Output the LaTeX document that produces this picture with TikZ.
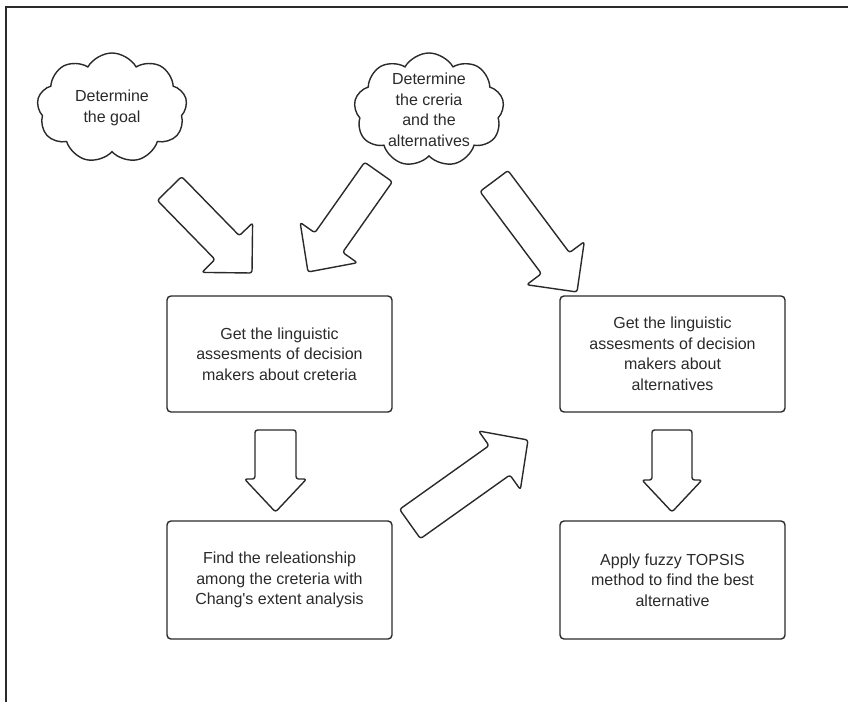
\documentclass[tikz,border=0pt]{standalone}
\usepackage{fontspec}
\setmainfont{Liberation Sans}
\usetikzlibrary{calc,shapes.symbols}
\definecolor{ink}{HTML}{2A2A2A}
\newcommand\blockarrow[5]{%
  \coordinate (ban) at ($(#2)!#5!(#1)$);
  \draw[blk] ($(#1)!#3!90:(#2)$) -- ($(ban)!#3!-90:(#1)$) -- ($(ban)!#4!-90:(#1)$) -- (#2)
    -- ($(ban)!#4!90:(#1)$) -- ($(ban)!#3!90:(#1)$) -- ($(#1)!#3!-90:(#2)$) -- cycle;}
\begin{document}
\begin{tikzpicture}[x=1pt,y=-1pt,
  blk/.style={draw=ink, line width=1.4pt, rounded corners=2.5pt, line join=round},
  box/.style={draw=ink, line width=1.4pt, rounded corners=4pt, minimum width=225pt, minimum height=116pt, inner sep=0pt},
  cloudshape/.style={cloud, draw=ink, line width=1.4pt, cloud puffs=9, cloud puff arc=120, aspect=1.35, minimum width=150pt, minimum height=110pt, inner sep=0pt},
  lbl/.style={align=center, text=ink, font=\fontsize{16}{20.5}\selectfont, inner sep=0pt}]
\useasboundingbox (0,0) rectangle (848,702);
% frame
\draw[ink, line width=1.6pt] (6,702) -- (6,7) -- (848,7);
% clouds
\node[cloudshape] (cloud1) at (112,108) {};
\node[lbl] (c1t) at (cloud1.center) {Determine\\the goal};
\node[cloudshape, minimum height=114pt] (cloud2) at (429,110) {};
\node[lbl] (c2t) at (cloud2.center) {Determine\\the creria\\and the\\alternatives};
% boxes
\node[box] (b1) at (279.5,354) {};
\node[lbl] (b1t) at (b1.center) {Get the linguistic\\assesments of decision\\makers about creteria};
\node[box] (b2) at (672.5,354) {};
\node[lbl] (b2t) at (b2.center) {Get the linguistic\\assesments of decision\\makers about\\alternatives};
\node[box, minimum height=118pt] (b3) at (279.5,580) {};
\node[lbl] (b3t) at (b3.center) {Find the releationship\\among the creteria with\\Chang\textquotesingle s extent analysis};
\node[box, minimum height=118pt] (b4) at (672.5,580) {};
\node[lbl] (b4t) at (b4.center) {Apply fuzzy TOPSIS\\method to find the best\\alternative};
% block arrows
\coordinate (aA) at (169.5,188.5); \coordinate (tA) at (252,273);
\coordinate (aB) at (378.5,172);   \coordinate (tB) at (308,272);
\coordinate (aC) at (494,181);     \coordinate (tC) at (577,292);
\coordinate (aD) at (410,524);     \coordinate (tD) at (528,440);
\coordinate (aE) at (275.5,430);   \coordinate (tE) at (275.5,512);
\coordinate (aF) at (672,430);     \coordinate (tF) at (672,512);
\blockarrow{aA}{tA}{17pt}{35.5pt}{35.5pt}
\blockarrow{aB}{tB}{17pt}{35pt}{36pt}
\blockarrow{aC}{tC}{17.5pt}{36pt}{36pt}
\blockarrow{aD}{tD}{18pt}{36pt}{35pt}
\blockarrow{aE}{tE}{20.5pt}{31pt}{33pt}
\blockarrow{aF}{tF}{20pt}{30pt}{32pt}
\end{tikzpicture}
\end{document}
